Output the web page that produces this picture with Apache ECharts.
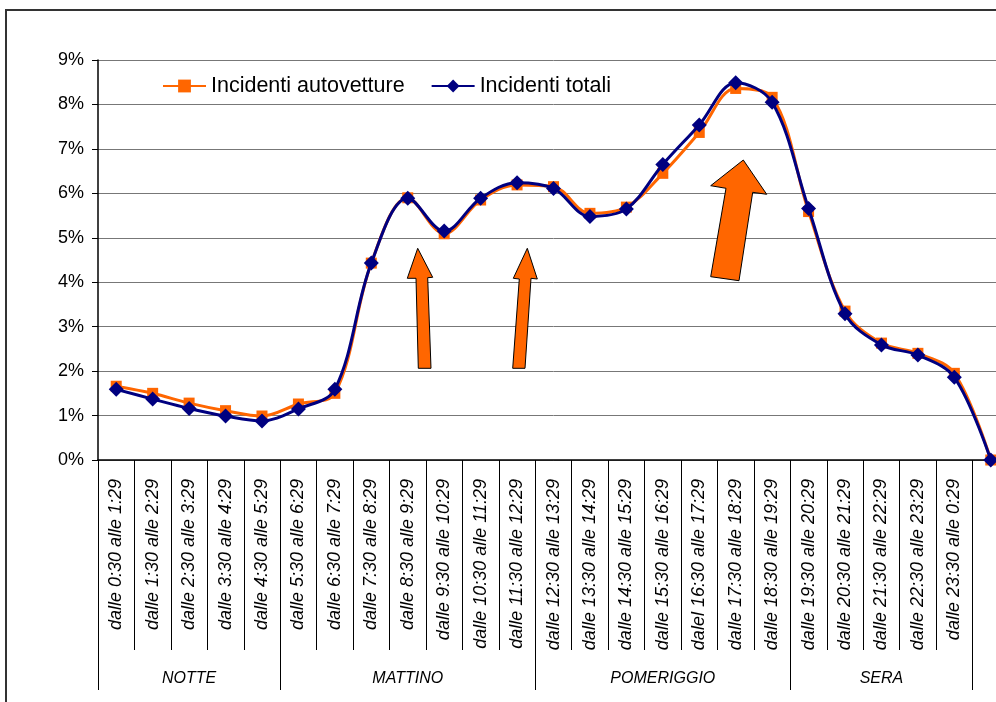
<!DOCTYPE html>
<html>
<head>
<meta charset="utf-8">
<script src="https://cdn.jsdelivr.net/npm/echarts@6/dist/echarts.min.js"></script>
<style>
  html, body { margin: 0; padding: 0; background: #fff; overflow: hidden; }
  /* the plot runs past the right edge of the page, as in the original sheet */
  #chart { width: 1030px; height: 702px; }
</style>
</head>
<body>
<div id="chart"></div>
<script>
// Hourly time slots (the last slot closes the day at midnight and has no label)
const fasceOrarie = [
  'dalle 0:30 alle 1:29', 'dalle 1:30 alle 2:29', 'dalle 2:30 alle 3:29',
  'dalle 3:30 alle 4:29', 'dalle 4:30 alle 5:29', 'dalle 5:30 alle 6:29',
  'dalle 6:30 alle 7:29', 'dalle 7:30 alle 8:29', 'dalle 8:30 alle 9:29',
  'dalle 9:30 alle 10:29', 'dalle 10:30 alle 11:29', 'dalle 11:30 alle 12:29',
  'dalle 12:30 alle 13:29', 'dalle 13:30 alle 14:29', 'dalle 14:30 alle 15:29',
  'dalle 15:30 alle 16:29', 'dalel 16:30 alle 17:29', 'dalle 17:30 alle 18:29',
  'dalle 18:30 alle 19:29', 'dalle 19:30 alle 20:29', 'dalle 20:30 alle 21:29',
  'dalle 21:30 alle 22:29', 'dalle 22:30 alle 23:29', 'dalle 23:30 alle 0:29',
  ''
];

// Parts of the day: name and number of slots in each
const fasceGiorno = ['NOTTE', 'MATTINO', 'POMERIGGIO', 'SERA'];
const slotPerFascia = [5, 7, 7, 5];

// Share of accidents per slot (%)
const incidentiAutovetture = [
  1.66, 1.50, 1.28, 1.11, 0.99, 1.26, 1.50, 4.43, 5.90, 5.09, 5.85, 6.19,
  6.15, 5.55, 5.69, 6.45, 7.37, 8.36, 8.16, 5.59, 3.35, 2.63, 2.40, 1.95, 0
];
const incidentiTotali = [
  1.59, 1.37, 1.16, 0.99, 0.88, 1.15, 1.59, 4.43, 5.89, 5.15, 5.89, 6.24,
  6.11, 5.48, 5.65, 6.65, 7.54, 8.49, 8.05, 5.66, 3.29, 2.59, 2.36, 1.86, 0
];

const yTicks = { min: 0, max: 9, step: 1 };

// Group axis: name placed on the middle slot of each part of the day,
// separators at the first slot of each part
const gruppoLabels = new Array(fasceOrarie.length).fill('');
const separatori = [0];
let start = 0;
fasceGiorno.forEach((nome, i) => {
  const n = slotPerFascia[i];
  gruppoLabels[start + Math.floor(n / 2)] = nome;
  start += n;
  separatori.push(start);
});

const FONT = '"Liberation Sans", Arial, sans-serif';
const ARANCIO = '#FF6600';
const BLU = '#000080';

function freccia(points) {
  return {
    type: 'polygon',
    shape: { points: points },
    style: { fill: ARANCIO, stroke: '#000', lineWidth: 1 },
    z: 10
  };
}

const chart = echarts.init(document.getElementById('chart'), null, { renderer: 'canvas' });

chart.setOption({
  backgroundColor: '#fff',
  animation: false,
  textStyle: { fontFamily: FONT },
  grid: { left: 98, top: 60, width: 911, height: 400, containLabel: false },
  legend: {
    left: 162,
    top: 75,
    padding: 0,
    itemWidth: 43,
    itemHeight: 16,
    itemGap: 26,
    textStyle: { fontSize: 21.5, color: '#000', fontFamily: FONT },
    data: ['Incidenti autovetture', 'Incidenti totali']
  },
  xAxis: [
    {
      type: 'category',
      data: fasceOrarie,
      boundaryGap: true,
      axisLine: { show: true, lineStyle: { color: '#000', width: 1.5 } },
      axisTick: { show: true, interval: 0, length: 190, lineStyle: { color: '#000', width: 1 } },
      axisLabel: {
        interval: 0,
        rotate: 90,
        margin: 19,
        fontSize: 18,
        fontStyle: 'italic',
        color: '#000',
        fontFamily: FONT
      },
      splitLine: { show: false }
    },
    {
      type: 'category',
      data: gruppoLabels,
      boundaryGap: true,
      position: 'bottom',
      offset: 0,
      axisLine: { show: false },
      axisTick: {
        show: true,
        length: 230,
        interval: (i) => separatori.indexOf(i) >= 0,
        lineStyle: { color: '#000', width: 1 }
      },
      axisLabel: {
        interval: 0,
        margin: 211,
        fontSize: 16,
        fontStyle: 'italic',
        color: '#000',
        fontFamily: FONT
      },
      splitLine: { show: false }
    }
  ],
  yAxis: {
    type: 'value',
    min: yTicks.min,
    max: yTicks.max,
    interval: yTicks.step,
    axisLine: { show: true, lineStyle: { color: '#000', width: 1.5 } },
    axisTick: { show: true, length: 6, lineStyle: { color: '#000' } },
    axisLabel: {
      formatter: '{value}%',
      fontSize: 18,
      color: '#000',
      margin: 14,
      fontFamily: FONT
    },
    splitLine: { show: true, lineStyle: { color: '#777', width: 1 } }
  },
  series: [
    {
      name: 'Incidenti autovetture',
      type: 'line',
      data: incidentiAutovetture,
      smooth: 0.35,
      symbol: 'rect',
      symbolSize: 11,
      lineStyle: { color: ARANCIO, width: 3 },
      itemStyle: { color: ARANCIO },
      z: 3
    },
    {
      name: 'Incidenti totali',
      type: 'line',
      data: incidentiTotali,
      smooth: 0.35,
      symbol: 'diamond',
      symbolSize: 15,
      lineStyle: { color: BLU, width: 3 },
      itemStyle: { color: BLU },
      z: 4
    }
  ],
  graphic: [
    {
      type: 'rect',
      shape: { x: 6, y: 10, width: 1200, height: 900 },
      style: { fill: 'none', stroke: '#333', lineWidth: 2 },
      silent: true,
      z: -1
    },
    freccia([[417.7, 248.3], [432.7, 277.3], [427.7, 277.7], [431, 368.3], [418.3, 368.3], [416, 278.3], [407.3, 278.3]]),
    freccia([[527.3, 248.3], [537.3, 279], [531, 278.3], [525, 368.3], [512.7, 368.3], [519.3, 279], [513.3, 278.3]]),
    freccia([[743.3, 160], [766.7, 194.3], [752.7, 192.3], [739, 280.7], [710.7, 276.7], [726, 188.3], [710.7, 185.7]])
  ]
});
</script>
</body>
</html>
